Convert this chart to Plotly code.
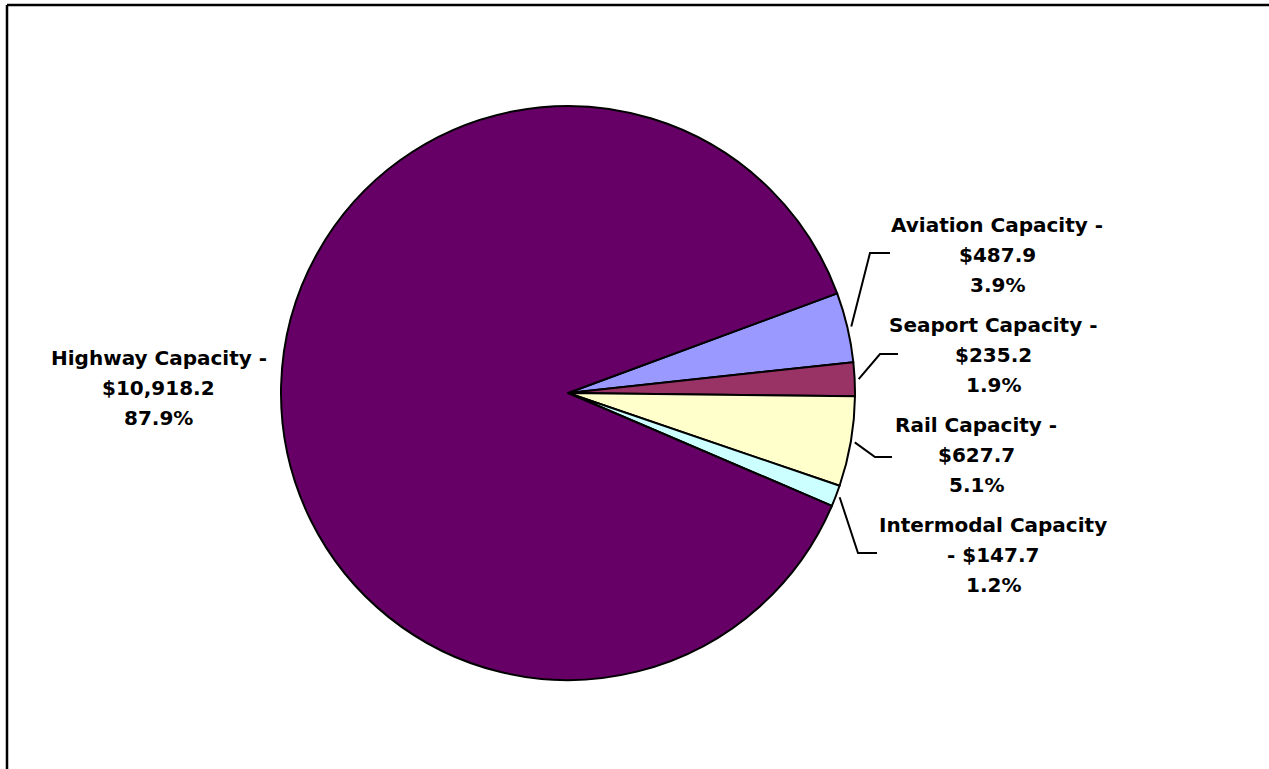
import math
import plotly.graph_objects as go

# Capacity spending by mode ($ millions)
categories = ["Aviation Capacity", "Seaport Capacity", "Rail Capacity",
              "Intermodal Capacity", "Highway Capacity"]
values = [487.9, 235.2, 627.7, 147.7, 10918.2]
colors = ["#9999FF", "#993366", "#FFFFCC", "#CCFFFF", "#660066"]

W, H = 1269, 769
CX, CY, R = 568, 393, 287
ROTATION = 69.7

FONT = dict(family="DejaVu Sans", size=20, color="black")

fig = go.Figure(go.Pie(
    labels=categories,
    values=values,
    marker=dict(colors=colors, line=dict(color="black", width=2)),
    sort=False,
    direction="clockwise",
    rotation=ROTATION,
    textinfo="none",
    hoverinfo="label+value+percent",
    showlegend=False,
    domain=dict(x=[(CX - R) / W, (CX + R) / W],
                y=[1 - (CY + R) / H, 1 - (CY - R) / H]),
))

total = sum(values)


def px(x):
    return x / W


def py(y):
    return 1 - y / H


def fmt_label(name, v, split_dash):
    pct = f"{100 * v / total:.1f}%"
    money = f"${v:,.1f}"
    if split_dash:
        return [name, f"- {money}", pct]
    return [f"{name} -", money, pct]


# label block centre (x) and first-line centre (y), plus leader elbows
label_pos = {
    "Aviation Capacity": (997, 225, (870, 253), (890, 253)),
    "Seaport Capacity": (993, 325, (880, 354), (898, 354)),
    "Rail Capacity": (976, 425, (875, 457), (892, 457)),
    "Intermodal Capacity": (993, 525, (858, 553), (877, 553)),
    "Highway Capacity": (159, 358, None, None),
}
LINE_GAP = 30

annotations = []
shapes = []

# outer chart frame (top and left edges)
shapes.append(dict(type="line", xref="paper", yref="paper",
                   x0=px(7), y0=py(5), x1=1, y1=py(5),
                   line=dict(color="black", width=2.5)))
shapes.append(dict(type="line", xref="paper", yref="paper",
                   x0=px(7), y0=py(5), x1=px(7), y1=0,
                   line=dict(color="black", width=2.5)))

angle = ROTATION
for name, v in zip(categories, values):
    span = 360 * v / total
    mid = math.radians(angle + span / 2)
    angle += span
    lx, ly, elbow, end = label_pos[name]
    lines = fmt_label(name, v, name == "Intermodal Capacity")
    for i, t in enumerate(lines):
        annotations.append(dict(
            text=f"<b>{t}</b>", x=px(lx), y=py(ly + i * LINE_GAP),
            xref="paper", yref="paper", showarrow=False,
            xanchor="center", yanchor="middle", font=FONT))
    if elbow is not None:
        sx = CX + (R + 4) * math.sin(mid)
        sy = CY - (R + 4) * math.cos(mid)
        shapes.append(dict(type="path", xref="paper", yref="paper",
                           path=f"M {px(sx)} {py(sy)} L {px(elbow[0])} {py(elbow[1])} "
                                f"L {px(end[0])} {py(end[1])}",
                           line=dict(color="black", width=2)))

fig.update_layout(
    width=W, height=H,
    margin=dict(l=0, r=0, t=0, b=0),
    paper_bgcolor="white",
    plot_bgcolor="white",
    annotations=annotations,
    shapes=shapes,
)

fig.write_html("out.html")
